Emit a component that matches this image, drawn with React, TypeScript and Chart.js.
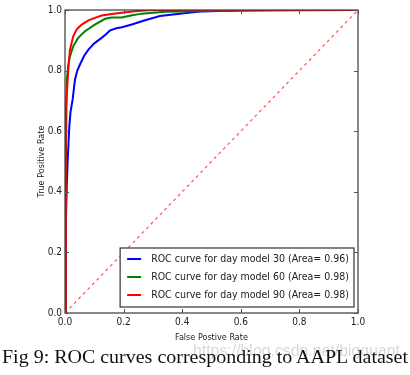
import React, { useEffect, useRef } from "react";
import { Chart, registerables } from "chart.js";

Chart.register(...registerables);

// ---- data ----
const fpr30 = [0, 0.003, 0.006, 0.009, 0.012, 0.015, 0.019, 0.026, 0.034, 0.042, 0.051, 0.065, 0.08, 0.1, 0.125, 0.14, 0.154, 0.175, 0.194, 0.228, 0.273, 0.324, 0.392, 0.461, 0.529, 0.597, 0.7, 0.79, 1.0];
const tpr30 = [0, 0.3, 0.42, 0.5, 0.56, 0.62, 0.665, 0.704, 0.77, 0.8, 0.82, 0.848, 0.869, 0.89, 0.908, 0.92, 0.933, 0.94, 0.943, 0.952, 0.966, 0.98, 0.988, 0.995, 0.997, 0.998, 0.999, 0.999, 1.0];

const fpr60 = [0, 0.002, 0.006, 0.011, 0.017, 0.028, 0.045, 0.068, 0.102, 0.137, 0.159, 0.193, 0.229, 0.262, 0.341, 0.45, 0.597, 0.8, 1.0];
const tpr60 = [0, 0.4, 0.77, 0.815, 0.847, 0.88, 0.908, 0.93, 0.952, 0.971, 0.975, 0.975, 0.983, 0.988, 0.994, 0.996, 0.998, 1.0, 1.0];

const fpr90 = [0, 0.002, 0.003, 0.009, 0.013, 0.017, 0.028, 0.04, 0.057, 0.08, 0.102, 0.125, 0.159, 0.194, 0.239, 0.283, 0.32, 1.0];
const tpr90 = [0, 0.37, 0.671, 0.765, 0.83, 0.869, 0.913, 0.936, 0.952, 0.966, 0.974, 0.982, 0.987, 0.991, 0.996, 0.999, 1.0, 1.0];

const chanceX = [0, 1];
const chanceY = [0, 1];

const seriesLabels = [
  "ROC curve for day model 30 (Area= 0.96)",
  "ROC curve for day model 60 (Area= 0.98)",
  "ROC curve for day model 90 (Area= 0.98)",
];
const tickValues = [0, 0.2, 0.4, 0.6, 0.8, 1.0];
const xTitle = "False Postive Rate";
const yTitle = "True Positive Rate";
const captionText = "Fig 9: ROC curves corresponding to AAPL dataset";
const watermarkText = "https://blog.csdn.net/bigquant";

// ---- styles ----
const seriesColors = ["#0000ff", "#008000", "#ff0000"];
const FONT = "'DejaVu Sans Condensed', 'Liberation Sans Narrow', 'DejaVu Sans', sans-serif";
const INK = "#222222";

const toPoints = (xs: number[], ys: number[]) => xs.map((x, i) => ({ x, y: ys[i] }));

const decorPlugin = {
  id: "decor",
  afterDatasetsDraw(chart: any) {
    const { ctx, chartArea } = chart;
    const { left, right, top, bottom } = chartArea;
    const xs = chart.scales.x;
    const ys = chart.scales.y;
    ctx.save();
    // frame
    ctx.strokeStyle = "#3a3a3a";
    ctx.lineWidth = 1.2;
    ctx.strokeRect(left, top, right - left, bottom - top);
    // inner ticks
    ctx.lineWidth = 1;
    ctx.strokeStyle = "#555555";
    const tl = 4;
    ctx.beginPath();
    tickValues.forEach((v) => {
      const px = Math.round(xs.getPixelForValue(v)) + 0.5;
      ctx.moveTo(px, bottom);
      ctx.lineTo(px, bottom - tl);
      ctx.moveTo(px, top);
      ctx.lineTo(px, top + tl);
      const py = Math.round(ys.getPixelForValue(v)) + 0.5;
      ctx.moveTo(left, py);
      ctx.lineTo(left + tl, py);
      ctx.moveTo(right, py);
      ctx.lineTo(right - tl, py);
    });
    ctx.stroke();

    // legend
    ctx.font = `10.5px ${FONT}`;
    const textW = Math.max(...seriesLabels.map((s) => ctx.measureText(s).width));
    const boxRight = right - 4;
    const boxBottom = bottom - 6;
    const rowH = 18;
    const boxH = rowH * seriesLabels.length + 5;
    const boxW = textW + 31 + 5;
    const boxLeft = boxRight - boxW;
    const boxTop = boxBottom - boxH;
    ctx.fillStyle = "#ffffff";
    ctx.fillRect(boxLeft, boxTop, boxW, boxH);
    ctx.strokeStyle = "#333333";
    ctx.lineWidth = 1.2;
    ctx.strokeRect(boxLeft, boxTop, boxW, boxH);
    ctx.textBaseline = "middle";
    ctx.textAlign = "left";
    seriesLabels.forEach((label, i) => {
      const cy = boxTop + 11 + i * rowH;
      ctx.strokeStyle = seriesColors[i];
      ctx.lineWidth = 2;
      ctx.beginPath();
      ctx.moveTo(boxLeft + 7, cy);
      ctx.lineTo(boxLeft + 21, cy);
      ctx.stroke();
      ctx.fillStyle = INK;
      ctx.fillText(label, boxLeft + 31, cy + 0.5);
    });
    ctx.restore();
  },
};

export default function App() {
  const canvasRef = useRef<HTMLCanvasElement | null>(null);
  const capRef = useRef<HTMLSpanElement | null>(null);
  const wmRef = useRef<HTMLSpanElement | null>(null);

  useEffect(() => {
    const fit = (el: HTMLSpanElement | null, target: number) => {
      if (!el) return;
      el.style.transform = "none";
      const w = el.getBoundingClientRect().width;
      if (w > 0) el.style.transform = `scaleX(${target / w})`;
    };
    fit(capRef.current, 406);
    fit(wmRef.current, 207);

    if (!canvasRef.current) return;
    const axisCommon = (title: string, isY: boolean) => ({
      type: "linear" as const,
      min: 0,
      max: 1,
      grid: { display: false, drawTicks: false, tickLength: 0 },
      border: { display: false },
      afterBuildTicks: (s: any) => {
        s.ticks = tickValues.map((v) => ({ value: v }));
      },
      ticks: {
        padding: 3,
        color: INK,
        font: { family: FONT, size: 10 },
        callback: (v: any) => Number(v).toFixed(1),
        maxRotation: 0,
        autoSkip: false,
      },
      title: {
        display: true,
        text: title,
        color: INK,
        font: { family: FONT, size: 9 },
        padding: isY ? { top: 36, bottom: 0 } : { top: 0, bottom: 7 },
      },
      afterFit: (s: any) => {
        if (isY) s.width = 65;
        else s.height = 37;
      },
    });

    const chart = new Chart(canvasRef.current, {
      type: "line",
      data: {
        datasets: [
          {
            label: seriesLabels[2],
            data: toPoints(fpr90, tpr90),
            borderColor: seriesColors[2],
            borderWidth: 2,
            pointRadius: 0,
            order: 0,
          },
          {
            label: seriesLabels[1],
            data: toPoints(fpr60, tpr60),
            borderColor: seriesColors[1],
            borderWidth: 2,
            pointRadius: 0,
            order: 1,
          },
          {
            label: seriesLabels[0],
            data: toPoints(fpr30, tpr30),
            borderColor: seriesColors[0],
            borderWidth: 2,
            pointRadius: 0,
            order: 2,
          },
          {
            label: "chance",
            data: toPoints(chanceX, chanceY),
            borderColor: "rgba(255,40,40,0.75)",
            borderWidth: 1.3,
            borderDash: [3, 3.5],
            pointRadius: 0,
            order: 3,
          },
        ],
      },
      options: {
        responsive: false,
        animation: false,
        parsing: false as any,
        layout: { padding: { left: 0, top: 10, right: 52, bottom: 0 } },
        plugins: { legend: { display: false }, tooltip: { enabled: false } },
        scales: {
          x: axisCommon(xTitle, false),
          y: axisCommon(yTitle, true),
        },
      },
      plugins: [decorPlugin],
    });
    return () => chart.destroy();
  }, []);

  return (
    <div style={{ position: "absolute", left: 0, top: 0, width: 410, height: 375, background: "#fff", overflow: "hidden" }}>
      <canvas ref={canvasRef} width={410} height={350} style={{ position: "absolute", left: 0, top: 0, display: "block" }} />
      <span
        ref={wmRef}
        style={{
          position: "absolute",
          left: 193,
          top: 343,
          fontFamily: "'Liberation Sans', Arial, sans-serif",
          fontSize: 16,
          lineHeight: "16px",
          color: "rgba(170,170,170,0.45)",
          whiteSpace: "nowrap",
          transformOrigin: "left top",
        }}
      >
        {watermarkText}
      </span>
      <span
        ref={capRef}
        style={{
          position: "absolute",
          left: 2,
          top: 348,
          fontFamily: "'Liberation Serif', 'DejaVu Serif', serif",
          fontSize: 18,
          lineHeight: "18px",
          color: "#111",
          whiteSpace: "nowrap",
          transformOrigin: "left top",
        }}
      >
        {captionText}
      </span>
    </div>
  );
}
